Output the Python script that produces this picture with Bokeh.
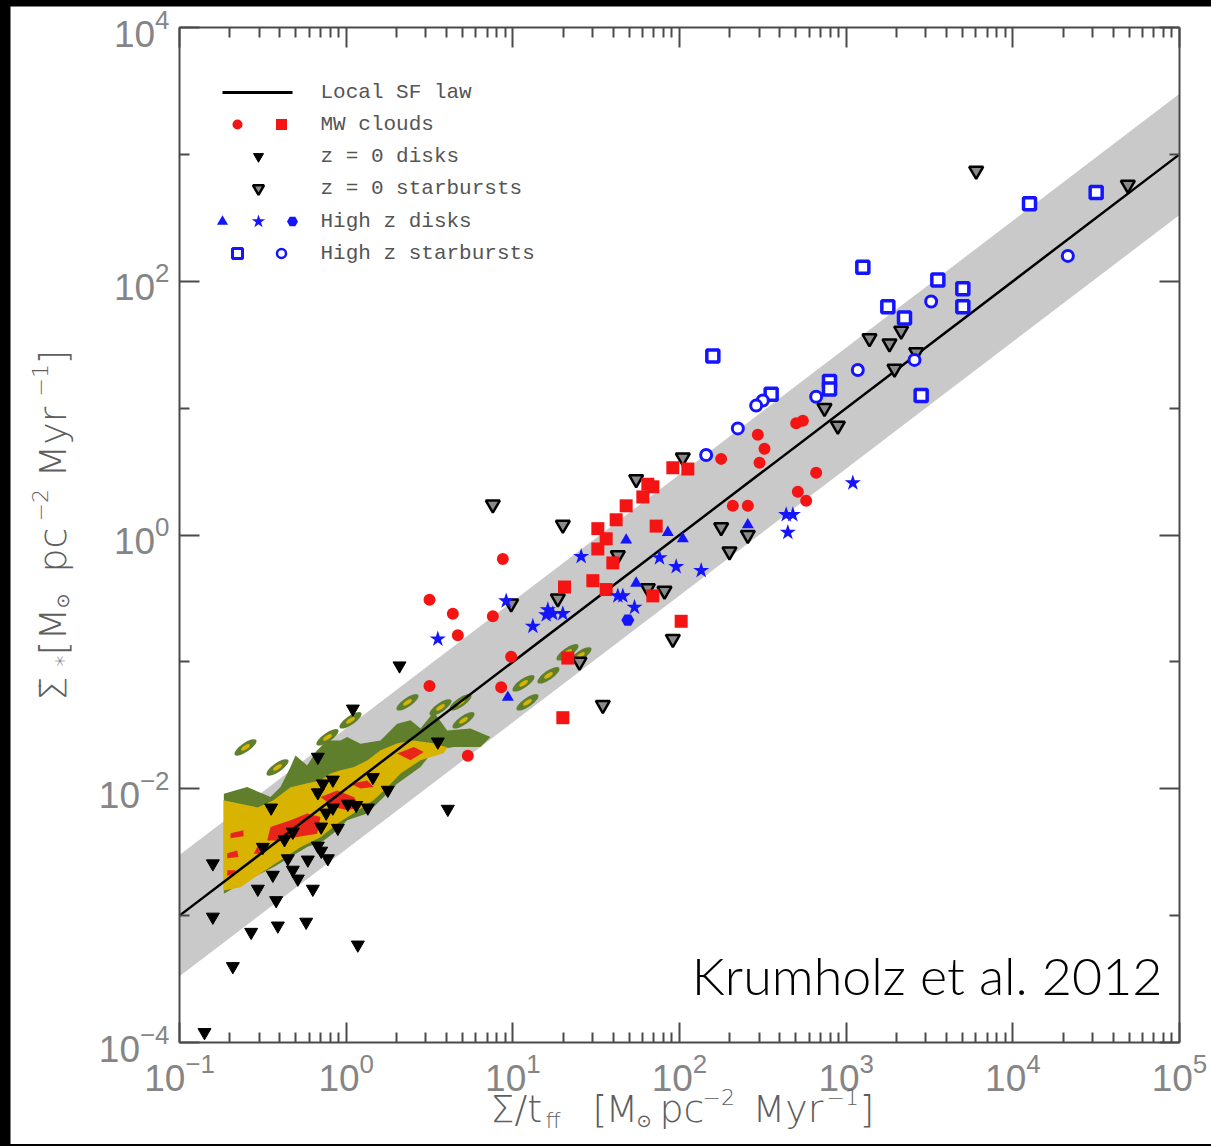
import numpy as np
from bokeh.plotting import figure
from bokeh.models import FixedTicker, LogAxis, Label
from bokeh.embed import file_html
from bokeh.resources import INLINE

# ---------------- axis ticks ----------------
x_major = [1e-1, 1e0, 1e1, 1e2, 1e3, 1e4, 1e5]
x_minor = [k * 10.0 ** n for n in range(-1, 5) for k in range(2, 10)]
y_major = [1e-4, 1e-2, 1e0, 1e2, 1e4]
y_minor = [1e-3, 1e-1, 1e1, 1e3]
x_bounds = (1e-1, 1e5)
y_bounds = (1e-4, 1e4)

# ---------------- local SF law (eps_ff = 0.01, scatter factor 3) ----------------
law_eps = 0.01
law_scatter = 3.0
law_x = [1e-1, 1e5]

# ---------------- data (log10 values) ----------------
mw_circle_logx = [2.47, 2.51, 2.48, 2.25, 2.82, 2.71, 2.76, 2.32, 2.41, 0.94, 0.50, 0.64, 0.88, 0.67, 0.99, 0.50, 0.93, 0.73, 2.70, 2.74]
mw_circle_logy = [0.79, 0.68, 0.57, 0.60, 0.49, 0.34, 0.27, 0.23, 0.23, -0.19, -0.51, -0.62, -0.64, -0.79, -0.96, -1.19, -1.20, -1.74, 0.88, 0.90]

mw_square_logx = [1.96, 2.05, 1.81, 1.84, 1.78, 1.68, 1.62, 1.51, 1.56, 1.51, 1.60, 1.86, 1.48, 1.56, 1.31, 1.84, 2.01, 1.33, 1.30]
mw_square_logy = [0.53, 0.52, 0.40, 0.38, 0.30, 0.23, 0.12, 0.05, -0.03, -0.11, -0.22, 0.07, -0.36, -0.43, -0.41, -0.48, -0.68, -0.97, -1.44]

z0_disk_logx = [0.04, 0.32, 0.61, -0.80, -0.80, -0.57, -0.41, -0.24, 0.07, -0.68, -0.85, -0.42, -0.20, -0.53, -0.29, -0.32, -0.23, -0.44, -0.11, -0.15,
                -0.35, -0.17, -0.50, -0.37, -0.32, -0.15, -0.05, -0.12, -0.08, 0.01, 0.06, 0.13, -0.17, -0.14, -0.08, 0.16, 0.25, -0.45, -0.17, 0.55]
z0_disk_logy = [-1.37, -1.03, -2.16, -2.59, -3.01, -3.13, -3.08, -3.05, -3.23, -3.40, -3.92, -2.88, -2.79, -2.79, -2.71, -2.64, -2.56, -2.68, -2.55, -2.49,
                -2.55, -2.45, -2.46, -2.40, -2.34, -2.30, -2.31, -2.19, -2.15, -2.12, -2.13, -2.15, -2.03, -1.96, -1.93, -1.91, -2.01, -2.15, -1.75, -1.63]

z0_sb_logx = [3.78, 4.69, 3.14, 3.26, 3.33, 3.42, 3.29, 2.87, 2.95, 2.02, 1.74, 0.88, 1.30, 2.25, 2.41, 2.30, 1.63, 1.81, 1.91, 1.27, 0.99, 1.96, 1.40, 1.54]
z0_sb_logy = [2.87, 2.76, 1.55, 1.51, 1.61, 1.44, 1.31, 1.00, 0.86, 0.61, 0.44, 0.24, 0.08, 0.06, 0.00, -0.13, -0.16, -0.42, -0.44, -0.50, -0.54, -0.82, -1.00, -1.34]

hz_tri_logx = [1.93, 2.02, 1.68, 2.41, 1.74, 0.97]
hz_tri_logy = [0.02, -0.03, -0.04, 0.08, -0.38, -1.28]

hz_star_logx = [1.41, 1.88, 1.98, 2.13, 2.64, 2.68, 2.65, 0.96, 1.21, 1.24, 1.30, 1.20, 1.12, 0.55, 1.63, 1.66, 1.73, 3.04]
hz_star_logy = [-0.17, -0.18, -0.25, -0.28, 0.16, 0.16, 0.02, -0.52, -0.59, -0.62, -0.62, -0.63, -0.72, -0.82, -0.48, -0.48, -0.57, 0.41]

hz_hex_logx = [1.69]
hz_hex_logy = [-0.67]

hzsb_square_logx = [4.10, 4.50, 3.10, 3.55, 3.70, 3.70, 3.25, 3.35, 3.45, 2.20, 2.90, 2.90, 2.55]
hzsb_square_logy = [2.61, 2.70, 2.11, 2.01, 1.94, 1.80, 1.80, 1.71, 1.10, 1.41, 1.21, 1.15, 1.11]

hzsb_circle_logx = [4.33, 3.51, 3.41, 3.07, 2.82, 2.50, 2.46, 2.35, 2.16]
hzsb_circle_logy = [2.20, 1.84, 1.38, 1.30, 1.09, 1.06, 1.02, 0.84, 0.63]

# resolved-disk contours (outer / inner / peak levels), log10 vertices
contour_outer_logx = [-0.734, -0.734, -0.594, -0.454, -0.394, -0.334, -0.304, -0.234, -0.174, -0.114, -0.034, 0.006, 0.086, 0.206, 0.306, 0.386,
                      0.446, 0.526, 0.606, 0.746, 0.866, 0.806, 0.646, 0.526, 0.446, 0.306, 0.226, 0.126, 0.006, -0.054, -0.134, -0.234,
                      -0.334, -0.434, -0.594]
contour_outer_logy = [-2.827, -2.039, -1.987, -2.065, -1.987, -1.829, -1.737, -1.816, -1.697, -1.619, -1.619, -1.593, -1.645, -1.619, -1.487, -1.461,
                      -1.526, -1.396, -1.540, -1.526, -1.593, -1.671, -1.671, -1.697, -1.829, -1.960, -2.065, -2.196, -2.249, -2.328, -2.407, -2.459,
                      -2.538, -2.617, -2.722]
contour_mid_logx = [-0.736, -0.736, -0.652, -0.532, -0.436, -0.334, -0.232, -0.154, -0.094, -0.034, 0.044, 0.128, 0.206, 0.308, 0.404, 0.524,
                    0.608, 0.584, 0.446, 0.326, 0.248, 0.164, 0.044, -0.052, -0.154, -0.274, -0.394, -0.514, -0.634]
contour_mid_logy = [-2.801, -2.091, -2.115, -2.147, -2.091, -1.989, -1.957, -1.934, -1.879, -1.855, -1.831, -1.776, -1.697, -1.642, -1.619, -1.642,
                    -1.674, -1.721, -1.776, -1.879, -1.989, -2.091, -2.194, -2.273, -2.383, -2.462, -2.564, -2.667, -2.777]
contour_peak_logx = [[-0.454, -0.334, -0.234, -0.154, -0.174, -0.294, -0.394, -0.474],
                     [-0.154, -0.054, 0.046, 0.086, 0.006, -0.074],
                     [0.026, 0.126, 0.166, 0.086],
                     [0.306, 0.406, 0.466, 0.386],
                     [-0.694, -0.616, -0.616, -0.694],
                     [-0.714, -0.654, -0.646, -0.714],
                     [-0.714, -0.664, -0.676, -0.714],
                     [-0.534, -0.474, -0.494, -0.554]]
contour_peak_logy = [[-2.302, -2.249, -2.196, -2.223, -2.354, -2.381, -2.407, -2.407],
                     [-2.065, -2.013, -2.065, -2.144, -2.170, -2.144],
                     [-1.960, -1.934, -1.987, -1.999],
                     [-1.723, -1.671, -1.711, -1.776],
                     [-2.351, -2.328, -2.375, -2.391],
                     [-2.509, -2.486, -2.538, -2.548],
                     [-2.643, -2.643, -2.683, -2.683],
                     [-2.459, -2.433, -2.512, -2.512]]
contour_blob_logx = [0.368, 0.566, 0.704, 1.064, 1.088, -0.112, 0.026, -0.604, -0.412, 1.214, 0.686, 1.328, 1.406]
contour_blob_logy = [-1.319, -1.359, -1.461, -1.169, -1.319, -1.595, -1.461, -1.674, -1.832, -1.106, -1.319, -0.925, -0.949]

legend_labels = ["Local SF law", "MW clouds", "z = 0 disks", "z = 0 starbursts", "High z disks", "High z starbursts"]


def tolin(a):
    return [10.0 ** v for v in a]


# ---------------- geometry (page pixels) ----------------
# data box: page x 179..1179 (1e-1..1e5), page y 27..1042 (1e4..1e-4)
FL, FT, FW, FH = 179, 27, 1000, 1015
CANVAS_L, CANVAS_T, CANVAS_W, CANVAS_H = 10, 6, 1201, 1138


def dx(px):
    return 10 ** (-1 + 6.0 * (px - FL) / FW)


def dy(py):
    return 10 ** (4 - 8.0 * (py - FT) / FH)


AX = "#4a4a4a"
TICK_COL = "#858585"
TITLE_COL = "#5e5e5e"
RED = "#f41414"
BLUE = "#1414ff"
TITLE_FONT = "'DejaVu Sans Light', 'DejaVu Sans'"

p = figure(x_axis_type="log", y_axis_type="log",
           x_range=(dx(CANVAS_L), dx(CANVAS_L + CANVAS_W)), y_range=(dy(CANVAS_T + CANVAS_H), dy(CANVAS_T)),
           frame_width=CANVAS_W, frame_height=CANVAS_H, min_border=0, title=None,
           x_axis_location=None, y_axis_location=None,
           output_backend="svg", toolbar_location=None, outline_line_color=None,
           background_fill_color="white", border_fill_color="white")
p.grid.visible = False


def make_axis(ticks, minor, bounds, loc, labels):
    ax = LogAxis(ticker=FixedTicker(ticks=ticks, minor_ticks=minor), bounds=bounds, fixed_location=loc)
    ax.axis_line_color = AX
    ax.axis_line_width = 2
    ax.major_tick_line_color = AX
    ax.major_tick_line_width = 2
    ax.minor_tick_line_color = AX
    ax.minor_tick_line_width = 2
    ax.major_tick_in = 20
    ax.major_tick_out = 0
    ax.minor_tick_in = 10
    ax.minor_tick_out = 0
    ax.major_label_text_font = "Liberation Sans"
    ax.major_label_text_color = TICK_COL
    if labels:
        ax.major_label_text_font_size = "37px"
        ax.major_label_standoff = 10
    else:
        ax.major_label_text_font_size = "2px"
        ax.major_label_text_alpha = 0.0
        ax.major_label_standoff = 0
    return ax


p.add_layout(make_axis(x_major, x_minor, x_bounds, y_bounds[0], True), "below")
p.add_layout(make_axis(x_major, x_minor, x_bounds, y_bounds[1], False), "above")
p.add_layout(make_axis(y_major, y_minor, y_bounds, x_bounds[0], True), "left")
p.add_layout(make_axis(y_major, y_minor, y_bounds, x_bounds[1], False), "right")

# ---------------- band + law ----------------
lx = np.array(law_x)
p.varea(x=lx, y1=law_eps * lx / law_scatter, y2=law_eps * lx * law_scatter, fill_color="#c9c9c9")

# ---------------- contours ----------------
p.patch(tolin(contour_outer_logx), tolin(contour_outer_logy), fill_color="#5f7f2c", line_color=None)
p.patch(tolin(contour_mid_logx), tolin(contour_mid_logy), fill_color="#d8b400", line_color=None)
p.patches([tolin(a) for a in contour_peak_logx], [tolin(a) for a in contour_peak_logy], fill_color="#e8251a", line_color=None)
p.ellipse(tolin(contour_blob_logx), tolin(contour_blob_logy), width=26, height=9, angle=0.6,
          width_units="screen", height_units="screen", fill_color="#5f7f2c", line_color=None)
p.ellipse(tolin(contour_blob_logx), tolin(contour_blob_logy), width=10, height=4, angle=0.6,
          width_units="screen", height_units="screen", fill_color="#d8b400", line_color=None)

p.line(lx, law_eps * lx, line_color="black", line_width=2.5)

# ---------------- markers ----------------
p.scatter(tolin(z0_disk_logx), tolin(z0_disk_logy), marker="inverted_triangle", size=13, fill_color="black", line_color="black")
p.scatter(tolin(z0_sb_logx), tolin(z0_sb_logy), marker="inverted_triangle", size=14, fill_color="#8a8a8a", line_color="black", line_width=2.5)
p.scatter(tolin(mw_circle_logx), tolin(mw_circle_logy), marker="circle", size=12, fill_color=RED, line_color=None)
p.scatter(tolin(mw_square_logx), tolin(mw_square_logy), marker="square", size=13, fill_color=RED, line_color=None)
p.scatter(tolin(hz_tri_logx), tolin(hz_tri_logy), marker="triangle", size=12, fill_color=BLUE, line_color=None)
p.scatter(tolin(hz_star_logx), tolin(hz_star_logy), marker="star", size=17, fill_color=BLUE, line_color=None)
p.scatter(tolin(hz_hex_logx), tolin(hz_hex_logy), marker="hex", size=13, fill_color=BLUE, line_color=None)
p.scatter(tolin(hzsb_square_logx), tolin(hzsb_square_logy), marker="square", size=12, fill_color="white", line_color=BLUE, line_width=3.5)
p.scatter(tolin(hzsb_circle_logx), tolin(hzsb_circle_logy), marker="circle", size=11, fill_color="white", line_color=BLUE, line_width=3)

# ---------------- hand-built legend ----------------
row_py = [92, 124, 156, 188, 221, 253]
p.line([dx(222), dx(292)], [dy(row_py[0])] * 2, line_color="black", line_width=3)
p.scatter([dx(237)], [dy(row_py[1])], marker="circle", size=10, fill_color=RED, line_color=None)
p.scatter([dx(281)], [dy(row_py[1])], marker="square", size=11, fill_color=RED, line_color=None)
p.scatter([dx(258)], [dy(row_py[2])], marker="inverted_triangle", size=10, fill_color="black", line_color="black")
p.scatter([dx(258)], [dy(row_py[3])], marker="inverted_triangle", size=11, fill_color="#8a8a8a", line_color="black", line_width=2.5)
p.scatter([dx(222)], [dy(row_py[4])], marker="triangle", size=11, fill_color=BLUE, line_color=None)
p.scatter([dx(258)], [dy(row_py[4])], marker="star", size=14, fill_color=BLUE, line_color=None)
p.scatter([dx(292)], [dy(row_py[4])], marker="hex", size=11, fill_color=BLUE, line_color=None)
p.scatter([dx(237)], [dy(row_py[5])], marker="square", size=10, fill_color="white", line_color=BLUE, line_width=3)
p.scatter([dx(281)], [dy(row_py[5])], marker="circle", size=9, fill_color="white", line_color=BLUE, line_width=2.5)
for lab, ry in zip(legend_labels, row_py):
    p.add_layout(Label(x=dx(320), y=dy(ry), text=lab, text_font="Liberation Mono", text_font_size="21px",
                       text_color="#555555", text_align="left", text_baseline="middle"))

# ---------------- axis titles (composed pieces, anchored at cap centre) ----------------
x_title = [("\u03a3/t", 490, 1108, 38), ("ff", 545, 1120, 22), ("[", 592, 1108, 38), ("M", 605, 1108, 38),
           ("\u2299", 636, 1120, 18), ("pc", 659, 1108, 38), ("\u22122", 702, 1096, 22), ("Myr", 752, 1108, 38),
           ("\u22121", 826, 1096, 22), ("]", 859, 1108, 38)]
for txt, px, py, sz in x_title:
    p.add_layout(Label(x=dx(px), y=dy(py), text=txt, text_font=TITLE_FONT, text_font_size=f"{sz}px",
                       text_color=TITLE_COL, text_align="left", text_baseline="middle"))

y_title = [("\u03a3\u0307", 52, 700, 38), ("*", 63, 666, 22), ("[", 52, 655, 38), ("M", 52, 640, 38),
           ("\u2299", 62, 608, 18), ("pc", 52, 572, 38), ("\u22122", 39, 521, 22), ("Myr", 52, 477, 38),
           ("\u22121", 39, 396, 22), ("]", 52, 364, 38)]
for txt, px, py, sz in y_title:
    p.add_layout(Label(x=dx(px), y=dy(py), text=txt, text_font=TITLE_FONT, text_font_size=f"{sz}px",
                       text_color=TITLE_COL, text_align="left", text_baseline="middle", angle=np.pi / 2))

p.add_layout(Label(x=dx(1162), y=dy(974), text="Krumholz et al. 2012", text_font="'Lato Light', Lato",
                   text_font_size="52px", text_color="black", text_align="right", text_baseline="middle"))

html = file_html(p, INLINE, title="Krumholz et al. 2012")
html = html.replace("</head>", "<style>html, body {background-color:#000000 !important;} "
                    "body {padding: 6px 0px 0px 10px !important;}</style>\n</head>", 1)
open("out.html", "w").write(html)
